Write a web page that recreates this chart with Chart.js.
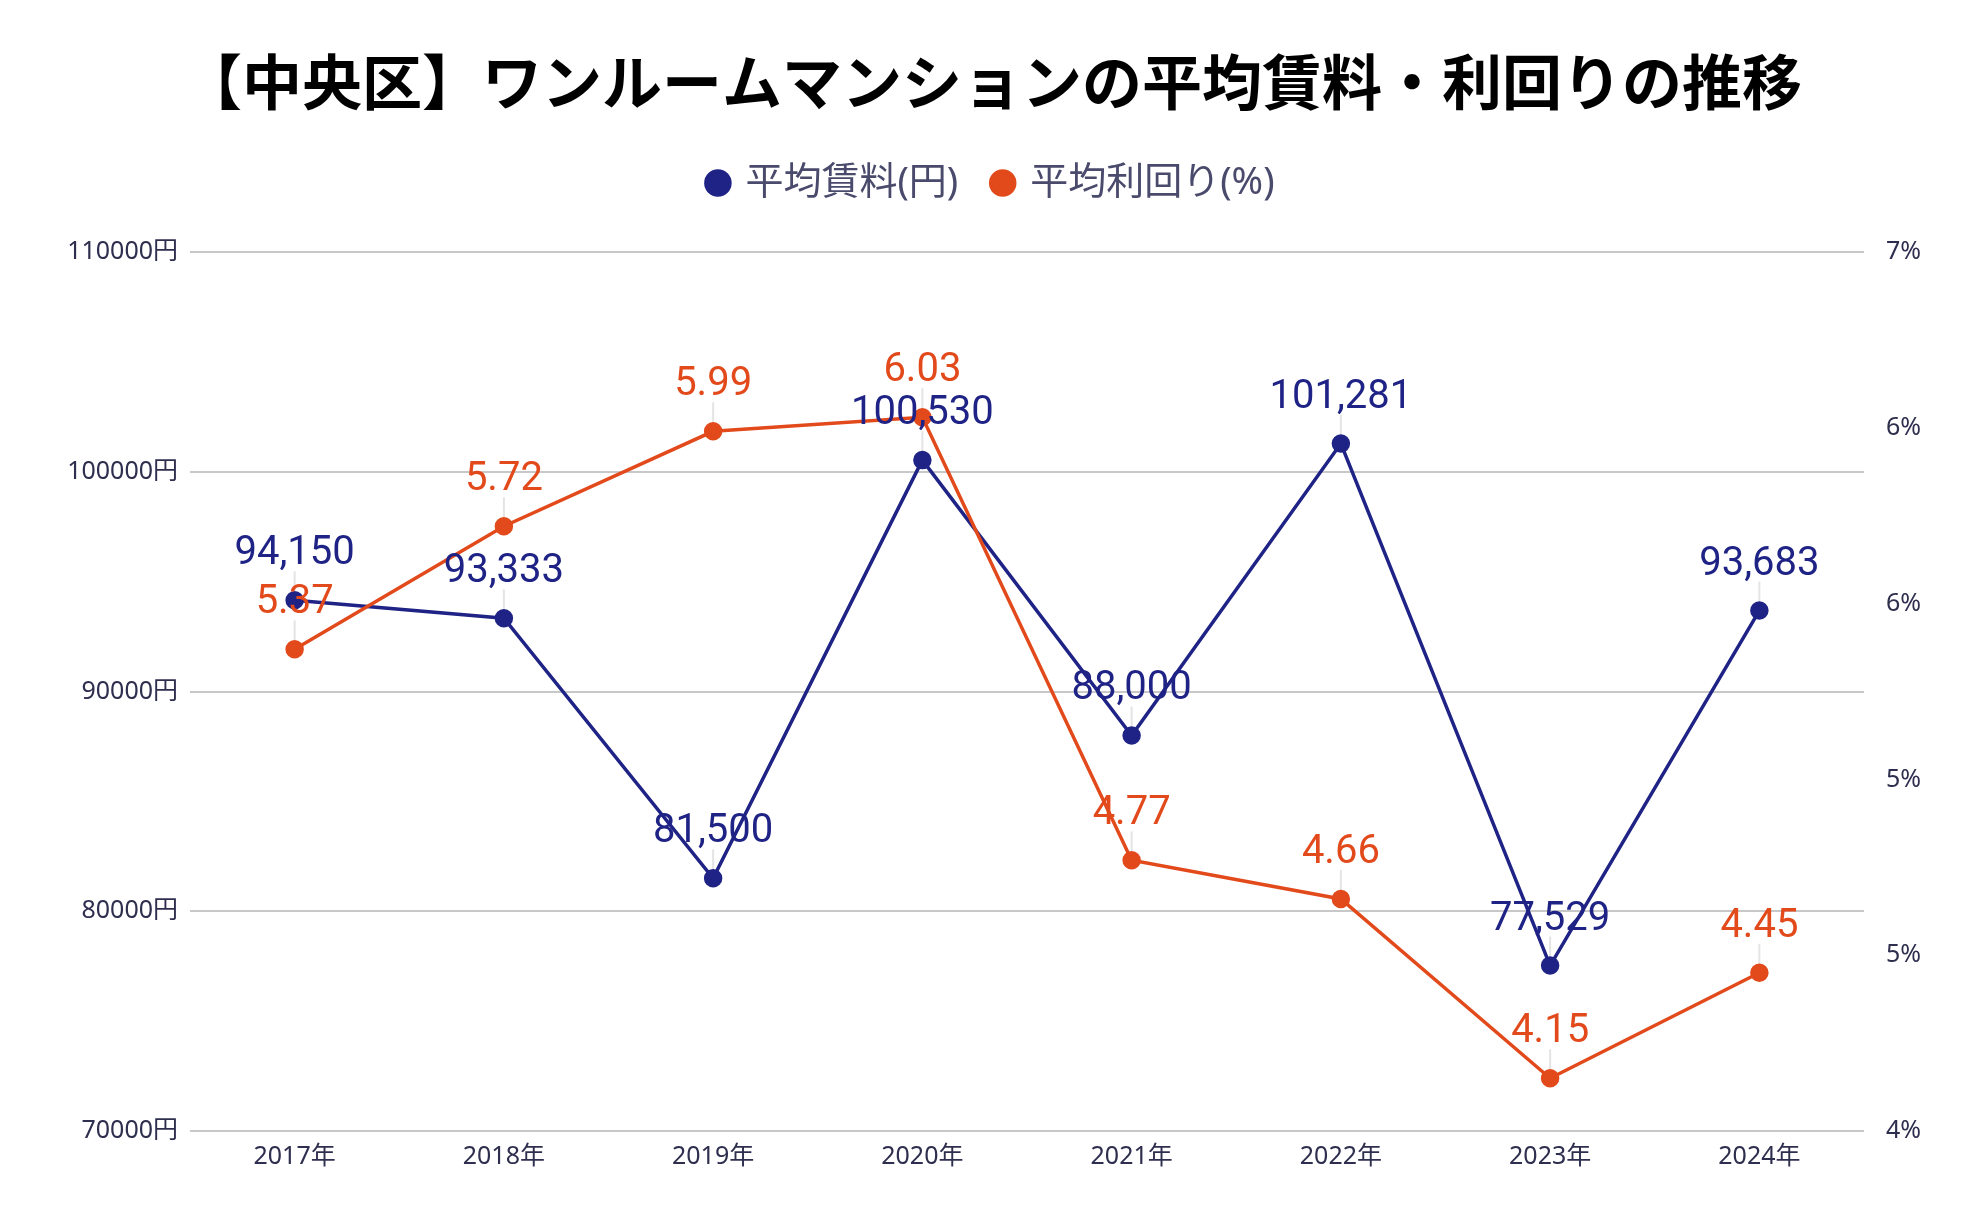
<!DOCTYPE html>
<html lang="ja">
<head>
<meta charset="utf-8">
<title>中央区 ワンルームマンション 平均賃料・利回り</title>
<script src="https://cdn.jsdelivr.net/npm/chart.js@4"></script>
<style>
  html, body { margin: 0; padding: 0; background: #fff; }
  #wrap { width: 1984px; height: 1228px; }
</style>
</head>
<body>
<div id="wrap"><canvas id="rentChart" width="1984" height="1228"></canvas></div>
<script>
// データ
const years = ['2017年', '2018年', '2019年', '2020年', '2021年', '2022年', '2023年', '2024年'];
const avgRent = [94150, 93333, 81500, 100530, 88000, 101281, 77529, 93683];
const avgYield = [5.37, 5.72, 5.99, 6.03, 4.77, 4.66, 4.15, 4.45];
const rentTicks = [70000, 80000, 90000, 100000, 110000];
const yieldTicks = [4, 4.5, 5, 5.5, 6, 6.5];

const BLUE = '#1f2385';
const ORANGE = '#e2491b';
const TICK_COLOR = '#2e2e4e';
const TICK_FONT = { family: '"Noto Sans", "Noto Sans CJK JP"', size: 25 };

// 点の上に数値ラベルと細い引き出し線を描く
const valueLabels = {
    id: 'valueLabels',
    beforeInit(chart) {
        // 凡例の下に余白を足す
        const fit = chart.legend.fit;
        chart.legend.fit = function () {
            fit.call(this);
            this.height += 40;
        };
    },
    beforeDatasetsDraw(chart) {
        const ctx = chart.ctx;
        ctx.save();
        ctx.strokeStyle = '#e4e4e4';
        ctx.lineWidth = 2;
        chart.data.datasets.forEach((ds, i) => {
            chart.getDatasetMeta(i).data.forEach(pt => {
                ctx.beginPath();
                ctx.moveTo(pt.x, pt.y - 9);
                ctx.lineTo(pt.x, pt.y - 29);
                ctx.stroke();
            });
        });
        ctx.restore();
    },
    afterDatasetsDraw(chart) {
        const ctx = chart.ctx;
        ctx.save();
        ctx.font = '40px Roboto';
        ctx.textAlign = 'center';
        ctx.textBaseline = 'middle';
        chart.data.datasets.forEach((ds, i) => {
            ctx.fillStyle = ds.borderColor;
            chart.getDatasetMeta(i).data.forEach((pt, j) => {
                ctx.fillText(ds.labelFormat(ds.data[j]), pt.x, pt.y - 46);
            });
        });
        ctx.restore();
    }
};

const ctx = document.getElementById('rentChart').getContext('2d');
new Chart(ctx, {
    type: 'line',
    data: {
        labels: years,
        datasets: [{
            label: '平均賃料(円)',
            data: avgRent,
            yAxisID: 'yRent',
            borderColor: BLUE,
            backgroundColor: BLUE,
            borderWidth: 3.5,
            pointRadius: 7.5,
            pointHoverRadius: 7.5,
            tension: 0,
            order: 1,
            labelFormat: v => v.toLocaleString('en-US')
        }, {
            label: '平均利回り(%)',
            data: avgYield,
            yAxisID: 'yYield',
            borderColor: ORANGE,
            backgroundColor: ORANGE,
            borderWidth: 3.5,
            pointRadius: 7.5,
            pointHoverRadius: 7.5,
            tension: 0,
            order: 0,
            labelFormat: v => v.toFixed(2)
        }]
    },
    options: {
        responsive: false,
        animation: false,
        devicePixelRatio: 1,
        layout: { padding: { top: 0, bottom: 53, left: 0, right: 0 } },
        plugins: {
            title: {
                display: true,
                text: '【中央区】ワンルームマンションの平均賃料・利回りの推移',
                color: '#000',
                font: { family: '"Noto Sans CJK JP"', size: 60, weight: 'bold' },
                padding: { top: 46, bottom: 10 }
            },
            legend: {
                display: true,
                labels: {
                    usePointStyle: true,
                    pointStyle: 'circle',
                    boxWidth: 17,
                    boxHeight: 17,
                    padding: 36,
                    color: '#4a4a6c',
                    font: { family: '"Noto Sans", "Noto Sans CJK JP"', size: 38 },
                    sort: (a, b) => a.datasetIndex - b.datasetIndex
                }
            },
            tooltip: { enabled: false }
        },
        scales: {
            x: {
                offset: true,
                grid: { display: false },
                border: { display: false },
                ticks: { color: TICK_COLOR, padding: 3, font: TICK_FONT }
            },
            yRent: {
                position: 'left',
                min: rentTicks[0],
                max: rentTicks[rentTicks.length - 1],
                afterBuildTicks: axis => { axis.ticks = rentTicks.map(v => ({ value: v })); },
                afterFit: axis => { axis.width = 190; },
                grid: { color: '#c8c8c8', lineWidth: 2, drawTicks: false },
                border: { display: false },
                ticks: {
                    color: TICK_COLOR,
                    padding: 12,
                    font: TICK_FONT,
                    callback: v => v + '円'
                }
            },
            yYield: {
                position: 'right',
                min: yieldTicks[0],
                max: yieldTicks[yieldTicks.length - 1],
                afterBuildTicks: axis => { axis.ticks = yieldTicks.map(v => ({ value: v })); },
                afterFit: axis => { axis.width = 120; },
                grid: { display: false },
                border: { display: false },
                ticks: {
                    color: TICK_COLOR,
                    padding: 14,
                    font: TICK_FONT,
                    callback: v => Math.round(v) + '%'
                }
            }
        }
    },
    plugins: [valueLabels]
});
</script>
</body>
</html>
